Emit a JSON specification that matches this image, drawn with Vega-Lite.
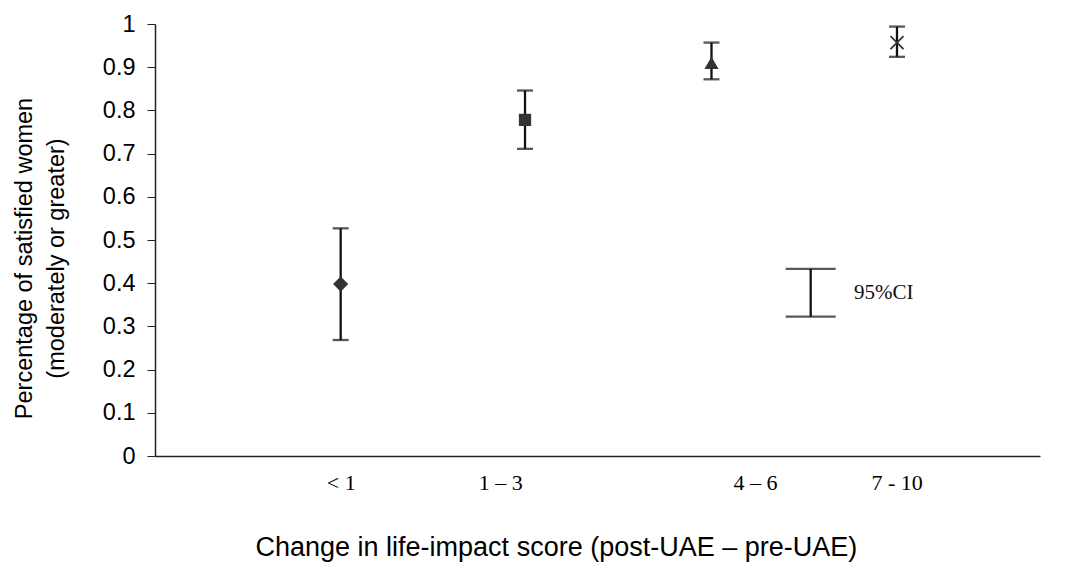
{
  "$schema": "https://vega.github.io/schema/vega-lite/v6.json",
  "autosize": {"type": "none"},
  "width": 885,
  "height": 432,
  "padding": {"left": 155, "top": 24, "right": 30, "bottom": 107},
  "background": "white",
  "config": {
    "view": {"stroke": null},
    "axis": {"grid": false, "domainColor": "#222", "tickColor": "#222", "labelColor": "#000", "titleColor": "#000", "titleFontWeight": "normal"}
  },
  "datasets": {
    "points": [
      {"group": "< 1", "pos": 2.098, "est": 0.398, "lo": 0.2685, "hi": 0.527},
      {"group": "1 – 3", "pos": 4.181, "est": 0.778, "lo": 0.711, "hi": 0.846},
      {"group": "4 – 6", "pos": 6.288, "est": 0.910, "lo": 0.872, "hi": 0.957},
      {"group": "7 - 10", "pos": 8.384, "est": 0.957, "lo": 0.924, "hi": 0.994}
    ],
    "ci": [
      {"pos": 7.409, "lo": 0.3225, "hi": 0.433, "textpos": 7.898, "mid": 0.378, "label": "95%CI"}
    ]
  },
  "encoding": {
    "x": {
      "field": "pos", "type": "quantitative",
      "scale": {"domain": [0, 10], "nice": false, "zero": false},
      "axis": {
        "title": "Change in life-impact score (post-UAE – pre-UAE)",
        "titleFont": "Liberation Sans", "titleFontSize": 27,
        "titleAnchor": "start", "titleX": 100, "titleY": 91, "titleBaseline": "middle",
        "values": [2.098, 3.9, 6.78, 8.38],
        "labelExpr": "datum.value < 3 ? '< 1' : datum.value < 5 ? '1 – 3' : datum.value < 7 ? '4 – 6' : '7 - 10'",
        "labelFont": "Liberation Serif", "labelFontSize": 22,
        "ticks": false, "tickSize": 0, "labelPadding": 16, "domainWidth": 1.5
      }
    }
  },
  "layer": [
    {
      "data": {"name": "points"},
      "mark": {"type": "rule", "color": "#111", "strokeWidth": 2.3},
      "encoding": {
        "y": {
          "field": "lo", "type": "quantitative",
          "scale": {"domain": [0, 1], "nice": false},
          "axis": {
            "title": ["Percentage of satisfied women", "(moderately or greater)"],
            "titleFont": "Liberation Sans", "titleFontSize": 23.5, "titleLineHeight": 32,
            "titlePadding": 34, "titleY": 234,
            "values": [0, 0.1, 0.2, 0.3, 0.4, 0.5, 0.6, 0.7, 0.8, 0.9, 1],
            "format": "~g",
            "labelFont": "Liberation Sans", "labelFontSize": 23.5,
            "tickSize": 8, "labelPadding": 12, "domainWidth": 1.5
          }
        },
        "y2": {"field": "hi"}
      }
    },
    {
      "data": {"name": "points"},
      "mark": {"type": "tick", "orient": "horizontal", "color": "#111", "size": 16, "thickness": 2.3},
      "encoding": {"y": {"field": "hi", "type": "quantitative"}}
    },
    {
      "data": {"name": "points"},
      "mark": {"type": "tick", "orient": "horizontal", "color": "#111", "size": 16, "thickness": 2.3},
      "encoding": {"y": {"field": "lo", "type": "quantitative"}}
    },
    {
      "data": {"name": "points"},
      "transform": [{"filter": "datum.group == '< 1'"}],
      "mark": {"type": "point", "shape": "diamond", "size": 230, "filled": true, "opacity": 1, "color": "#333"},
      "encoding": {"y": {"field": "est", "type": "quantitative"}}
    },
    {
      "data": {"name": "points"},
      "transform": [{"filter": "datum.group == '1 – 3'"}],
      "mark": {"type": "point", "shape": "square", "size": 150, "filled": true, "opacity": 1, "color": "#333"},
      "encoding": {"y": {"field": "est", "type": "quantitative"}}
    },
    {
      "data": {"name": "points"},
      "transform": [{"filter": "datum.group == '4 – 6'"}],
      "mark": {"type": "point", "shape": "triangle-up", "size": 200, "filled": true, "opacity": 1, "color": "#333"},
      "encoding": {"y": {"field": "est", "type": "quantitative"}}
    },
    {
      "data": {"name": "points"},
      "transform": [{"filter": "datum.group == '7 - 10'"}],
      "mark": {"type": "point", "shape": "M-1,-1L1,1M-1,1L1,-1", "filled": false, "size": 169, "strokeWidth": 1.8, "color": "#333", "opacity": 1},
      "encoding": {"y": {"field": "est", "type": "quantitative"}}
    },
    {
      "data": {"name": "ci"},
      "mark": {"type": "rule", "color": "#111", "strokeWidth": 2.3},
      "encoding": {"y": {"field": "lo", "type": "quantitative"}, "y2": {"field": "hi"}}
    },
    {
      "data": {"name": "ci"},
      "mark": {"type": "tick", "orient": "horizontal", "color": "#111", "size": 50, "thickness": 2.3},
      "encoding": {"y": {"field": "hi", "type": "quantitative"}}
    },
    {
      "data": {"name": "ci"},
      "mark": {"type": "tick", "orient": "horizontal", "color": "#111", "size": 50, "thickness": 2.3},
      "encoding": {"y": {"field": "lo", "type": "quantitative"}}
    },
    {
      "data": {"name": "ci"},
      "mark": {"type": "text", "align": "left", "baseline": "middle", "font": "Liberation Serif", "fontSize": 21, "color": "#111"},
      "encoding": {
        "x": {"field": "textpos", "type": "quantitative"},
        "y": {"field": "mid", "type": "quantitative"},
        "text": {"field": "label"}
      }
    }
  ]
}
